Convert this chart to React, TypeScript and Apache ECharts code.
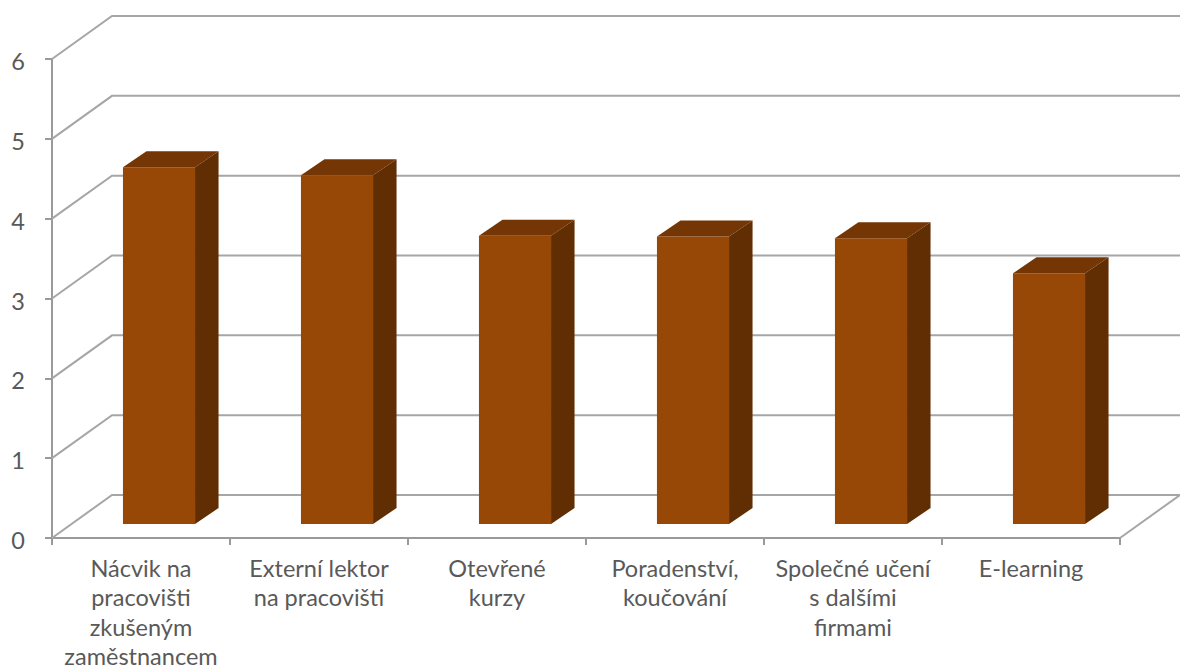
import React, { useEffect, useRef } from "react";
import * as echarts from "echarts";

const categories = [
  "Nácvik na\npracovišti\nzkušeným\nzaměstnancem",
  "Externí lektor\nna pracovišti",
  "Otevřené\nkurzy",
  "Poradenství,\nkoučování",
  "Společné učení\ns dalšími\nfirmami",
  "E-learning",
];
const scores = [4.47, 4.37, 3.61, 3.6, 3.58, 3.14];
const wallLevels = [0, 1, 2, 3, 4, 5, 6];

// Oblique projection of the chart box and of each column
const WALL_DX = 60;
const WALL_DY = -43;
const BAR_SHIFT_X = 18;
const BAR_SHIFT_Y = -14;
const BAR_DEPTH_X = 23.5;
const BAR_DEPTH_Y = -16;
const BAR_WIDTH_RATIO = 0.405;

const GRID_COLOR = "#a6a6a6";
const AXIS_COLOR = "#9a9a9a";
const TEXT_COLOR = "#595959";
const FRONT_COLOR = "#984806";
const TOP_COLOR = "#743604";
const SIDE_COLOR = "#602e02";

function renderWall(params: any, api: any) {
  const level = api.value(1);
  const band = api.size([1, 0])[0];
  const [cx, y] = api.coord([0, level]);
  const left = cx - band / 2;
  const right = left + band * categories.length;
  const style = { stroke: GRID_COLOR, lineWidth: 2, fill: "none" };
  const children: any[] = [
    {
      type: "polyline",
      shape: {
        points: [
          [left, y],
          [left + WALL_DX, y + WALL_DY],
          [right + WALL_DX, y + WALL_DY],
        ],
      },
      style,
    },
  ];
  if (level === 0) {
    children.push({
      type: "line",
      shape: { x1: right, y1: y, x2: right + WALL_DX, y2: y + WALL_DY },
      style,
    });
  }
  return { type: "group", children };
}

function renderColumn(params: any, api: any) {
  const index = api.value(0);
  const [cx, yTop] = api.coord([index, api.value(1)]);
  const [, yBase] = api.coord([index, 0]);
  const width = api.size([1, 0])[0] * BAR_WIDTH_RATIO;
  const x0 = cx + BAR_SHIFT_X - width / 2;
  const x1 = x0 + width;
  const top = yTop + BAR_SHIFT_Y;
  const base = yBase + BAR_SHIFT_Y;
  return {
    type: "group",
    children: [
      {
        type: "rect",
        shape: { x: x0, y: top, width, height: base - top },
        style: { fill: FRONT_COLOR },
      },
      {
        type: "polygon",
        shape: {
          points: [
            [x0, top],
            [x1, top],
            [x1 + BAR_DEPTH_X, top + BAR_DEPTH_Y],
            [x0 + BAR_DEPTH_X, top + BAR_DEPTH_Y],
          ],
        },
        style: { fill: TOP_COLOR },
      },
      {
        type: "polygon",
        shape: {
          points: [
            [x1, top],
            [x1 + BAR_DEPTH_X, top + BAR_DEPTH_Y],
            [x1 + BAR_DEPTH_X, base + BAR_DEPTH_Y],
            [x1, base],
          ],
        },
        style: { fill: SIDE_COLOR },
      },
    ],
  };
}

export default function App() {
  const ref = useRef<HTMLDivElement>(null);

  useEffect(() => {
    document.body.style.margin = "0";
    document.body.style.background = "#ffffff";
    const chart = echarts.init(ref.current!, undefined, { renderer: "svg" });
    chart.setOption({
      animation: false,
      backgroundColor: "#ffffff",
      grid: { left: 52, top: 59, width: 1068, height: 479, containLabel: false, outerBoundsMode: "none" },
      xAxis: {
        type: "category",
        data: categories,
        axisLine: { lineStyle: { color: AXIS_COLOR, width: 2 } },
        axisTick: { show: true, length: 7, alignWithLabel: false, lineStyle: { color: AXIS_COLOR, width: 2 } },
        axisLabel: {
          interval: 0,
          margin: 15,
          color: TEXT_COLOR,
          fontFamily: "Lato",
          fontSize: 23.5,
          lineHeight: 29.5,
        },
        splitLine: { show: false },
      },
      yAxis: {
        type: "value",
        min: 0,
        max: 6,
        interval: 1,
        axisLine: { show: true, lineStyle: { color: AXIS_COLOR, width: 2 } },
        axisTick: { show: true, length: 7, lineStyle: { color: AXIS_COLOR, width: 2 } },
        axisLabel: {
          margin: 27,
          formatter: "{tick|{value}}",
          rich: {
            tick: { color: TEXT_COLOR, fontFamily: "Lato", fontSize: 23.5, padding: [4, 0, 0, 0] },
          },
        },
        splitLine: { show: false },
      },
      series: [
        {
          type: "custom",
          z: 1,
          silent: true,
          renderItem: renderWall,
          data: wallLevels.map((level) => [0, level]),
        },
        {
          type: "custom",
          z: 5,
          renderItem: renderColumn,
          data: scores.map((score, i) => [i, score]),
        },
      ],
    });
    return () => chart.dispose();
  }, []);

  return <div ref={ref} style={{ width: 1180, height: 670 }} />;
}
